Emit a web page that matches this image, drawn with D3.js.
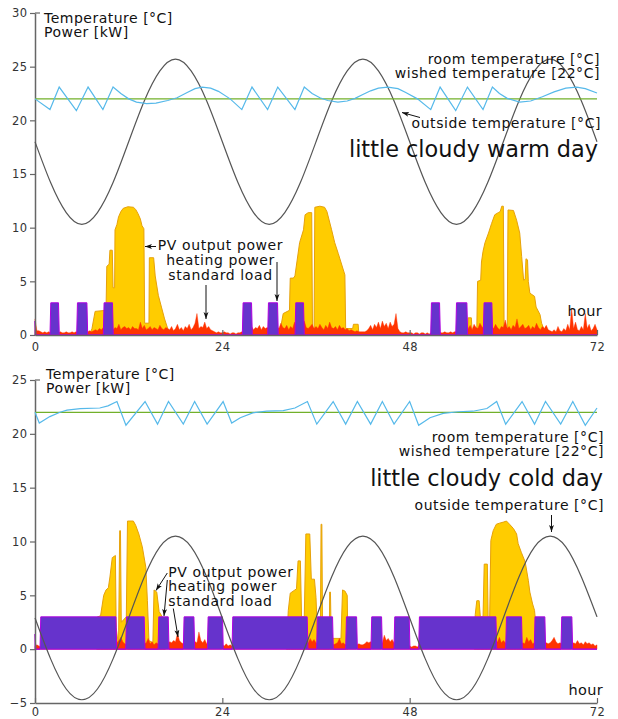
<!DOCTYPE html>
<html>
<head>
<meta charset="utf-8">
<script src="https://cdnjs.cloudflare.com/ajax/libs/d3/7.8.5/d3.min.js"></script>
<style>
body{margin:0;background:#fff;}
text{font-family:"DejaVu Sans",sans-serif;}
</style>
</head>
<body>
<div id="chart-area"></div>
<script>
// ---- data ----
const HOUR_TICKS = [0,24,48,72]
const WARM_TICKS = [0,5,10,15,20,25,30]
const COLD_TICKS = [-5,0,5,10,15,20,25]
const WISHED = 22
const HEAT_KW = 3

// outside temperature every 2 hours
const outsideWarm = [18,14.2,11.4,10.3,11.4,14.2,18,21.8,24.6,25.7,24.6,21.8,
	18,14.2,11.4,10.3,11.4,14.2,18,21.8,24.6,25.7,24.6,21.8,
	18,14.2,11.4,10.3,11.4,14.2,18,21.8,24.6,25.7,24.6,21.8,18]
const outsideCold = [2.9,-0.9,-3.7,-4.7,-3.7,-0.9,2.9,6.7,9.5,10.5,9.5,6.7,
	2.9,-0.9,-3.7,-4.7,-3.7,-0.9,2.9,6.7,9.5,10.5,9.5,6.7,
	2.9,-0.9,-3.7,-4.7,-3.7,-0.9,2.9,6.7,9.5,10.5,9.5,6.7,3.0]

// room temperature [hour, °C]
const roomWarm = [[0,22],[1.92,21],[3.1,23.1],[5.3,20.9],[6.8,23.1],[8.7,21],[10,23.1],
	[11,22.5],[12,22.0],[13,21.7],[14.3,21.55],[15.5,21.6],[17,21.85],[18.2,22.1],[19.5,22.6],[20.5,22.95],[21.4,23.1],[22.5,23.0],[23.5,22.7],[25,22.0],
	[26.5,21],[27.8,23.1],[29.8,21],[31.1,23.1],[33.3,21],[34.5,23.1],
	[35.5,22.5],[36.5,22.1],[37.5,21.85],[38.8,21.7],[40,21.8],[41,22.05],[42,22.4],[43,22.75],[44,23.0],[45.2,23.1],[46.5,22.95],[47.5,22.6],[49,22.0],
	[50.7,21],[51.9,23.1],[53.9,20.9],[55.4,23.1],[57.4,21],[58.6,23.1],
	[59.5,22.5],[60.5,22.05],[62.1,21.7],[63.5,21.8],[65,22.2],[66.5,22.65],[68,23.0],[69.4,23.1],[70.5,22.95],[72,22.55]]
const roomCold = [[0,22],[0.55,21],[1.9,21.6],[3.2,22.0],[4.1,22.2],[5.8,22.35],[8.3,22.4],[9.35,22.6],[10.5,23.0],
	[11.65,20.8],[14.1,23],[15.7,20.9],[17.1,23],[19,20.9],[20.45,23],[22.05,20.9],[24.1,23],[25.2,21],
	[26.3,21.5],[27.9,21.95],[29.7,22.1],[31.8,22.15],[33.3,22.4],[34.9,23],
	[36.1,20.9],[38.2,23],[39.8,20.9],[41.3,23],[43,20.9],[44.5,23],[46,20.9],[48,23],[49.15,20.8],
	[50.6,21.5],[52.3,21.9],[54.2,22.05],[56.1,22.1],[57.9,22.35],[59.15,23],
	[60.3,20.9],[62.4,23],[64,20.9],[65.4,23],[67.35,20.9],[68.9,23],[70.5,20.8],[72,22.4]]

// PV output power [hour, kW]
const pvWarm = [
	[[7.0,0],[7.3,0.6],[7.7,2.2],[9.1,2.3],[9.2,6.4],[9.5,6.6],[9.6,7.9],[9.9,7.9],[10.0,4.4],[10.2,4.4],[10.25,9.8],[10.5,10.3],[10.7,11.0],[11.0,11.5],[11.3,11.8],[11.9,11.95],[12.6,11.9],[12.9,11.7],[13.2,11.3],[13.5,10.8],[13.7,10.2],[13.95,9.9],[14.05,1.1],[14.6,1.1],[14.65,7.2],[15.2,7.2],[15.4,5.5],[15.8,3.7],[16.2,2.6],[16.6,1.5],[17.0,0.6],[17.3,0]],
	[[31.3,0],[31.8,2.0],[32.6,2.3],[32.7,5.3],[33.1,5.3],[33.3,5.5],[33.9,8.6],[34.4,9.8],[34.6,11.2],[35.0,11.4],[35.45,11.4],[35.55,0.5],[35.75,0.5],[35.85,11.9],[36.5,12.0],[37.1,11.9],[37.4,11.5],[38.0,9.8],[38.4,8.6],[38.85,7.6],[39.7,5.6],[39.8,0.6],[40.7,0.6],[40.8,1.0],[41.4,1.0],[41.5,0]],
	[[55.4,0],[55.5,1.6],[55.9,1.6],[56.0,0.3],[56.6,0.5],[56.7,5.0],[57.1,5.1],[57.2,6.8],[57.4,7.8],[57.65,8.6],[58.1,9.5],[58.5,10.4],[58.9,11.2],[59.35,11.4],[59.6,11.5],[59.8,12.0],[60.0,12.0],[60.1,0.5],[60.5,0.5],[60.6,11.65],[61.3,11.6],[61.7,10.7],[62.1,9.5],[62.35,7.3],[62.6,5.1],[62.8,5.2],[62.9,7.1],[63.1,7.0],[63.2,5.0],[63.4,3.9],[64.0,3.6],[64.2,2.6],[64.7,1.9],[64.9,1.1],[65.3,0.4],[65.4,0]]
]
const pvCold = [
	[[7.9,0],[8.0,3.0],[8.4,3.1],[8.8,5.0],[9.1,5.5],[9.4,5.7],[9.6,6.7],[9.9,8.5],[10.3,8.7],[10.4,2.0],[10.7,0.3],[10.85,11.0],[10.95,11.0],[11.05,2.5],[11.7,3.0],[11.85,11.9],[12.6,11.9],[12.9,11.5],[13.3,10.7],[13.75,9.5],[14.2,7.6],[14.4,4.5],[14.6,0.8],[15.1,0.6],[15.25,5.5],[15.6,5.3],[15.9,3.5],[16.3,3.0],[16.7,0]],
	[[32.2,0],[32.45,3.6],[32.7,5.2],[33.3,5.5],[33.5,5.6],[33.7,8.2],[34.0,8.2],[34.15,3.0],[34.5,3.0],[34.7,10.7],[35.2,10.7],[35.4,6.5],[35.8,6.5],[36.0,4.8],[36.2,1.0],[36.55,0.8],[36.65,11.6],[36.75,11.6],[36.85,0.8],[37.7,0.8],[37.75,5.3],[37.85,5.3],[37.95,1.0],[39.2,1.0],[39.4,5.5],[39.7,5.4],[40.0,5.0],[40.1,0]],
	[[56.3,0],[56.4,3.2],[56.6,4.5],[56.9,4.5],[57.05,3.0],[57.4,3.0],[57.55,7.9],[57.95,7.9],[58.05,3.0],[58.25,3.0],[58.4,10.1],[58.7,11.0],[59.1,11.6],[59.5,11.7],[60.0,11.8],[60.4,11.9],[60.8,11.6],[61.3,11.2],[61.7,10.7],[61.9,9.8],[62.3,9.0],[62.8,8.1],[63.2,6.4],[63.4,5.3],[63.75,4.2],[64.0,3.6],[64.3,1.0],[64.4,0]]
]

// heating on (3 kW) intervals [from, to] in hours, plus the value at hour 0
const heatWarmStart = 1.3
const heatWarm = [[1.92,3.11],[5.34,6.75],[8.75,10.03],[26.56,27.84],[29.81,31.17],[33.31,34.5],[50.69,51.93],[53.9,55.43],[57.43,58.63]]
const heatColdStart = 1.4
const heatCold = [[0.64,10.47],[11.62,14.09],[15.76,17.17],[19.0,20.46],[22.08,24.12],[25.24,34.97],[36.08,38.22],[39.8,41.3],[43.04,44.5],[45.99,48.04],[49.15,59.15],[60.3,62.43],[63.96,65.42],[67.38,68.88]]

// standard load, kW every quarter hour
const loadWarm = [
	1.5,0.4,0.4,0.3,0.2,0.3,0.2,0.3,0.2,0.2,0.3,0.2,0.2,0.3,0.2,0.2,0.3,0.2,0.2,0.3,0.2,0.3,0.2,0.2,
	0.3,0.2,0.3,0.3,0.4,0.3,0.4,0.5,0.4,0.6,0.5,0.7,0.5,1.2,0.6,0.8,0.5,0.7,0.6,1.0,0.5,0.7,0.8,0.6,
	0.7,0.5,0.8,0.6,0.6,0.5,1.2,0.6,0.9,0.5,0.6,0.8,0.5,0.7,0.6,0.5,0.9,0.6,0.5,0.7,0.6,0.5,0.8,0.4,
	0.6,1.0,0.5,0.7,0.4,0.8,0.6,1.0,0.5,0.7,1.1,2.0,0.6,0.8,0.7,1.2,0.6,0.8,0.5,0.4,0.3,0.2,0.3,0.2,
	0.2,0.3,0.2,0.2,0.1,0.2,0.2,0.1,0.2,0.2,0.3,0.2,0.5,0.4,0.6,0.8,0.5,0.7,0.6,0.9,0.5,0.8,0.6,0.7,
	0.6,1.0,0.7,0.5,0.8,0.6,1.1,0.7,0.6,0.9,0.5,0.8,0.6,1.2,0.7,0.5,0.9,0.6,1.3,0.7,0.6,0.8,1.0,0.6,
	0.8,0.6,1.0,0.7,0.5,0.9,0.6,1.2,0.7,0.6,0.8,0.5,0.9,0.6,0.7,0.5,0.6,0.4,0.5,0.4,0.3,0.4,0.3,0.3,
	0.3,0.3,0.4,0.6,0.9,0.5,1.0,0.7,1.2,0.6,1.3,0.8,1.1,0.6,1.2,0.8,1.0,2.0,0.6,0.3,0.2,0.2,0.3,0.2,
	0.2,0.2,0.1,0.2,0.2,0.1,0.2,0.2,0.1,0.2,0.1,0.2,0.2,0.1,0.2,0.3,0.2,0.2,0.3,0.2,0.2,0.3,0.2,0.3,
	0.3,0.2,0.3,0.2,0.3,0.2,0.6,0.9,0.5,1.0,0.7,0.6,1.1,0.8,0.6,0.9,0.5,0.7,0.8,0.6,1.0,0.7,0.5,0.8,
	0.7,1.4,0.6,0.8,0.5,0.9,0.7,1.5,0.6,0.8,1.0,0.6,0.7,0.9,0.5,0.8,0.6,1.1,0.7,0.5,0.8,0.6,0.9,0.5,
	0.4,0.3,0.5,0.3,0.8,0.4,0.3,0.6,0.4,1.0,0.5,2.5,0.6,1.2,0.5,0.4,0.8,0.5,2.0,0.6,1.0,0.4,0.6,1.0,
	0.5]
const loadCold = [
	0.3,0.4,0.3,0.2,0.4,0.3,0.5,0.4,0.3,0.4,0.5,0.3,0.4,0.3,0.5,0.4,0.3,0.4,0.3,0.5,0.4,0.3,0.4,0.3,
	0.4,0.3,0.5,0.4,0.3,0.4,0.5,0.3,0.4,0.5,0.3,0.4,0.6,0.5,0.4,0.6,0.5,0.7,0.6,0.8,1.1,0.7,0.5,0.4,
	0.5,0.4,0.6,0.5,0.4,0.5,0.6,0.4,0.5,0.6,1.0,0.5,0.7,0.4,0.6,0.5,0.4,0.5,0.6,0.4,0.5,0.7,0.6,0.8,
	0.7,1.5,0.8,0.6,0.5,0.6,0.7,0.5,0.6,0.5,0.7,0.6,1.6,0.8,0.6,0.9,0.5,0.6,0.5,0.4,0.5,0.4,0.5,0.4,
	0.4,0.3,0.5,0.3,0.4,0.3,0.4,0.3,0.4,0.5,0.4,0.3,0.4,0.5,0.4,0.5,0.4,0.5,0.6,0.5,0.4,0.5,0.6,0.5,
	0.5,0.4,0.5,0.6,0.5,0.4,0.5,0.6,0.5,0.4,0.6,0.5,0.4,0.5,0.6,0.5,0.4,0.5,0.6,0.5,0.6,1.0,0.7,0.9,
	0.6,0.5,0.6,0.5,0.4,0.5,0.4,0.5,0.6,0.4,0.5,0.6,1.0,0.5,0.6,0.4,0.5,0.4,0.5,0.4,0.5,0.4,0.5,0.4,
	0.4,0.5,0.7,0.6,0.7,0.5,0.4,0.5,0.4,0.5,0.6,1.3,0.8,1.0,0.7,0.9,0.6,0.5,0.4,0.5,0.4,0.5,0.4,0.5,
	0.3,0.2,0.3,0.3,0.2,0.4,0.3,0.4,0.3,0.4,0.3,0.4,0.3,0.4,0.3,0.4,0.3,0.4,0.3,0.4,0.5,0.4,0.5,0.4,
	0.5,0.4,0.5,0.6,0.5,0.4,0.5,0.6,0.5,0.4,0.5,0.6,0.5,0.4,0.5,0.6,0.5,0.4,0.5,0.6,0.5,0.7,1.1,0.6,
	0.8,0.6,0.5,0.6,0.5,0.4,0.5,0.6,0.5,0.4,0.6,0.5,1.1,0.7,0.9,0.5,0.6,0.4,0.5,0.6,0.5,0.4,0.6,0.5,
	0.6,0.8,1.1,0.7,0.5,0.6,0.5,0.4,0.5,0.6,0.5,0.4,0.6,0.5,0.8,0.5,0.6,0.4,0.7,0.5,0.6,0.4,0.5,0.3,
	0.4]

// ---- layout ----
const svg = d3.select('#chart-area')
.append('svg')
.attr('width',618)
.attr('height',719)

svg.append('defs').append('marker')
.attr('id','arr')
.attr('viewBox','0 0 10 10')
.attr('refX',10)
.attr('refY',5)
.attr('markerWidth',7)
.attr('markerHeight',7)
.attr('orient','auto')
.append('path')
.attr('d','M0,1.5 L10,5 L0,8.5 L2.5,5 z')
.attr('fill','#111')

const x = d3.scaleLinear().domain([0,72]).range([35,597])

// s = font size, ls = letter spacing
const panels = [
	{ y:d3.scaleLinear().domain([0,30]).range([335,13]), ticks:WARM_TICKS, outside:outsideWarm, room:roomWarm,
	  pv:pvWarm, heatStart:heatWarmStart, heat:heatWarm, load:loadWarm, labelPad:8,
	  texts:[
		{t:'Temperature [°C]', x:44, y:23, a:'start', s:14, ls:0.5},
		{t:'Power [kW]', x:44, y:37, a:'start', s:14, ls:0.5},
		{t:'room temperature [°C]', x:600, y:64, a:'end', s:14, ls:0.55},
		{t:'wished temperature [22°C]', x:600, y:78, a:'end', s:14, ls:0.55},
		{t:'outside temperature [°C]', x:601, y:128, a:'end', s:14, ls:0.55},
		{t:'little cloudy warm day', x:598, y:157, a:'end', s:22.4, ls:0},
		{t:'PV output power', x:220.5, y:250, a:'middle', s:14, ls:0.6},
		{t:'heating power', x:220.5, y:265, a:'middle', s:14, ls:0.6},
		{t:'standard load', x:220.5, y:279.5, a:'middle', s:14, ls:0.6},
		{t:'hour', x:602, y:316, a:'end', s:14.5, ls:0.3}
	  ],
	  arrows:[[156,246.5,145,246.5],[277,262,277,301],[206,285,206,319],[420,117.5,402,112.5]]
	},
	{ y:d3.scaleLinear().domain([-5,25]).range([703,380]), ticks:COLD_TICKS, outside:outsideCold, room:roomCold,
	  pv:pvCold, heatStart:heatColdStart, heat:heatCold, load:loadCold, labelPad:5,
	  texts:[
		{t:'Temperature [°C]', x:46, y:379, a:'start', s:14, ls:0.5},
		{t:'Power [kW]', x:46, y:392.5, a:'start', s:14, ls:0.5},
		{t:'room temperature [°C]', x:604, y:441.5, a:'end', s:14, ls:0.55},
		{t:'wished temperature [22°C]', x:604, y:455.5, a:'end', s:14, ls:0.55},
		{t:'little cloudy cold day', x:603, y:486, a:'end', s:22.4, ls:0},
		{t:'outside temperature [°C]', x:604, y:510, a:'end', s:14, ls:0.55},
		{t:'PV output power', x:168.3, y:576.5, a:'start', s:14, ls:0.6},
		{t:'heating power', x:168.3, y:591, a:'start', s:14, ls:0.6},
		{t:'standard load', x:168.3, y:605.5, a:'start', s:14, ls:0.6},
		{t:'hour', x:603, y:695, a:'end', s:14.5, ls:0.3}
	  ],
	  arrows:[[551.5,515,551.5,532],[167.3,573,156,590.5],[167.3,580,164,616],[173.3,608.5,178,637]]
	}
]

function heatPoints(start, intervals) {
	const pts = [[0,start],[0.12,0]]
	intervals.forEach(([a,b]) => {
		pts.push([a,0],[a+0.1,HEAT_KW],[b-0.1,HEAT_KW],[b,0])
	})
	pts.push([72,0])
	return pts
}

panels.forEach(p => {
	const y = p.y
	const g = svg.append('g')

	const area = d3.area().x(d=>x(d[0])).y0(y(0)).y1(d=>y(d[1]))

	// PV output
	p.pv.forEach(day => {
		g.append('path')
		.attr('d',area(day))
		.attr('fill','#ffcc00')
		.attr('stroke','#e6a10a')
		.attr('stroke-width',1)
	})

	// standard load
	const loadPts = p.load.map((v,i) => [i*0.25, v])
	g.append('path')
	.attr('d',area(loadPts))
	.attr('fill','#ff3300')
	.attr('stroke','#ff3300')
	.attr('stroke-width',0.4)

	// heating power
	g.append('path')
	.attr('d',area(heatPoints(p.heatStart,p.heat)))
	.attr('fill','#6633cc')
	.attr('stroke','#b000e0')
	.attr('stroke-width',1)

	// axes
	const yAxis = g.append('g')
	.attr('transform','translate(35,0)')
	.call(d3.axisLeft(y).tickValues(p.ticks).tickSize(5).tickSizeOuter(0).tickPadding(2.5))
	const xAxis = g.append('g')
	.attr('transform',`translate(0,${y.range()[0]})`)
	.call(d3.axisBottom(x).tickValues(HOUR_TICKS).tickSize(-5).tickSizeOuter(0).tickPadding(p.labelPad))
	;[yAxis,xAxis].forEach(a => {
		a.select('.domain').attr('stroke','#666').attr('stroke-width',1.5)
		a.selectAll('.tick line').attr('stroke','#666').attr('stroke-width',1.2)
		a.selectAll('.tick text').attr('fill','#333').style('font-size','11.5px').style('font-family','"DejaVu Sans",sans-serif').style('letter-spacing','0.4px')
	})
	g.append('line')
	.attr('x1',35).attr('x2',40)
	.attr('y1',y.range()[1]).attr('y2',y.range()[1])
	.attr('stroke','#666').attr('stroke-width',1.2)

	// temperatures
	const outsidePts = p.outside.map((v,i) => [i*2, v])
	g.append('path')
	.attr('d',d3.line().x(d=>x(d[0])).y(d=>y(d[1])).curve(d3.curveNatural)(outsidePts))
	.attr('fill','none')
	.attr('stroke','#555')
	.attr('stroke-width',1.2)

	g.append('line')
	.attr('x1',x(0)).attr('x2',x(72))
	.attr('y1',y(WISHED)).attr('y2',y(WISHED))
	.attr('stroke','#72b02a')
	.attr('stroke-width',1.3)

	g.append('path')
	.attr('d',d3.line().x(d=>x(d[0])).y(d=>y(d[1]))(p.room))
	.attr('fill','none')
	.attr('stroke','#56b9ea')
	.attr('stroke-width',1.2)

	// labels
	p.texts.forEach(t => {
		g.append('text')
		.attr('x',t.x)
		.attr('y',t.y)
		.attr('text-anchor',t.a)
		.attr('fill','#111')
		.style('font-size',t.s+'px')
		.style('letter-spacing',t.ls+'px')
		.text(t.t)
	})

	p.arrows.forEach(([x1,y1,x2,y2]) => {
		g.append('line')
		.attr('x1',x1).attr('y1',y1)
		.attr('x2',x2).attr('y2',y2)
		.attr('stroke','#111')
		.attr('stroke-width',1)
		.attr('marker-end','url(#arr)')
	})
})
</script>
</body>
</html>
